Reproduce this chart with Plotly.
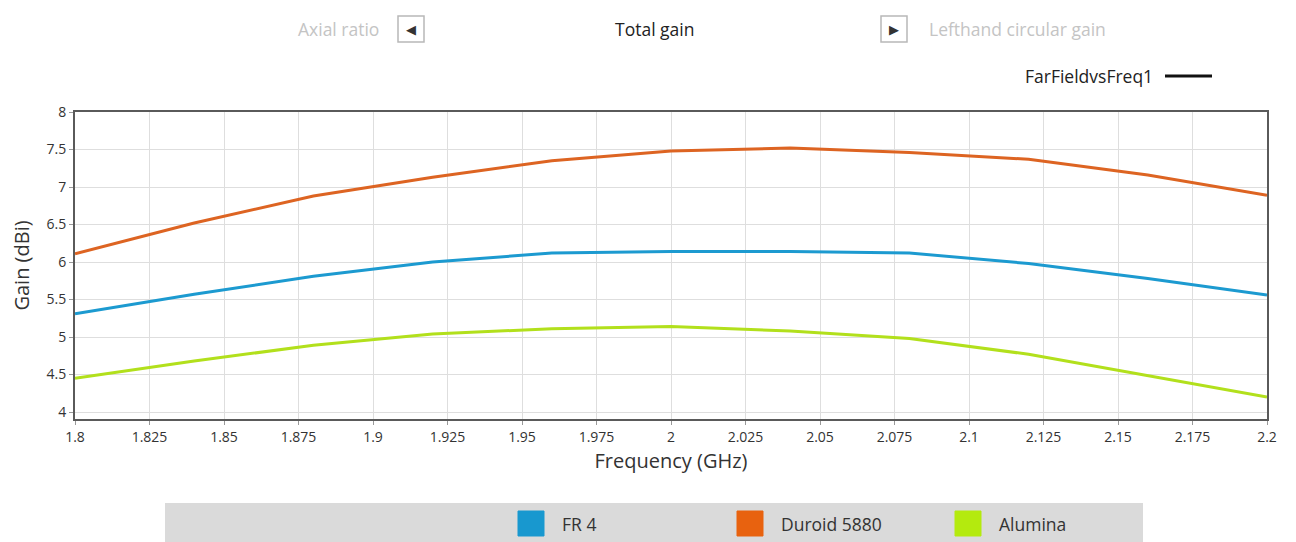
import plotly.graph_objects as go

freq = [1.80, 1.84, 1.88, 1.92, 1.96, 2.00, 2.04, 2.08, 2.12, 2.16, 2.20]
fr4 = [5.31, 5.57, 5.81, 6.00, 6.12, 6.14, 6.14, 6.12, 5.98, 5.78, 5.56]
duroid = [6.11, 6.52, 6.88, 7.13, 7.35, 7.48, 7.52, 7.46, 7.37, 7.16, 6.89]
alumina = [4.45, 4.68, 4.89, 5.04, 5.11, 5.14, 5.08, 4.98, 4.77, 4.49, 4.20]

series_names = ["FR 4", "Duroid 5880", "Alumina"]
series_values = [fr4, duroid, alumina]
series_colors = ["#1c9ad0", "#dd6422", "#b2e01c"]
legend_colors = ["#1898cf", "#e8620f", "#b4ea0e"]

x_ticks = [1.8, 1.825, 1.85, 1.875, 1.9, 1.925, 1.95, 1.975, 2.0, 2.025,
           2.05, 2.075, 2.1, 2.125, 2.15, 2.175, 2.2]
x_tick_labels = ["1.8", "1.825", "1.85", "1.875", "1.9", "1.925", "1.95", "1.975", "2",
                 "2.025", "2.05", "2.075", "2.1", "2.125", "2.15", "2.175", "2.2"]
y_ticks = [4, 4.5, 5, 5.5, 6, 6.5, 7, 7.5, 8]
y_tick_labels = ["4", "4.5", "5", "5.5", "6", "6.5", "7", "7.5", "8"]

W, H = 1296, 542
L, R, T, B = 75, 1267, 112, 419
FONT = "Open Sans, Noto Sans, sans-serif"


def px(x):
    return (x - L) / (R - L)


def py(y):
    return (B - y) / (B - T)


fig = go.Figure()
for name, vals, col in zip(series_names, series_values, series_colors):
    fig.add_trace(go.Scatter(x=freq, y=vals, mode="lines", name=name,
                             line=dict(color=col, width=3), showlegend=False))

shapes = []
annotations = []


def note(x, y, text, anchor, size, color, family=FONT):
    annotations.append(dict(xref="paper", yref="paper", x=px(x), y=py(y), text=text,
                            showarrow=False, xanchor=anchor, yanchor="middle",
                            font=dict(family=family, size=size, color=color)))


# header
note(381, 29, "Axial ratio", "right", 17.5, "#c4c4c4")
note(654, 29, "Total gain", "center", 17.5, "#222222")
note(927, 29, "Lefthand circular gain", "left", 17.5, "#c4c4c4")
for cx, sym in [(411, "◀"), (894, "▶")]:
    shapes.append(dict(type="rect", xref="paper", yref="paper",
                       x0=px(cx - 13), x1=px(cx + 13), y0=py(42), y1=py(16),
                       line=dict(color="#b8b8b8", width=1.5), fillcolor="#ffffff"))
    note(cx, 29, sym, "center", 13, "#333333", "DejaVu Sans")

note(1155, 76, "FarFieldvsFreq1", "right", 17.5, "#222222")
shapes.append(dict(type="line", xref="paper", yref="paper",
                   x0=px(1165), x1=px(1212), y0=py(76), y1=py(76),
                   line=dict(color="#111111", width=3)))

# legend bar
shapes.append(dict(type="rect", xref="paper", yref="paper",
                   x0=px(165), x1=px(1143), y0=py(545), y1=py(503),
                   line=dict(width=0), fillcolor="#dadada", layer="below"))
leg_x = [518, 737, 955]
for lx, name, col in zip(leg_x, series_names, legend_colors):
    shapes.append(dict(type="rect", xref="paper", yref="paper",
                       x0=px(lx), x1=px(lx + 26), y0=py(536), y1=py(511),
                       line=dict(color=col, width=1), fillcolor=col))
    note(lx + 42, 524, name, "left", 17.5, "#333333")

fig.update_layout(
    width=W, height=H,
    margin=dict(l=L, r=W - R, t=T, b=H - B, pad=0),
    paper_bgcolor="#ffffff", plot_bgcolor="#ffffff",
    showlegend=False,
    shapes=shapes, annotations=annotations,
    font=dict(family=FONT, size=14, color="#333333"),
)
fig.update_xaxes(range=[1.8, 2.2], tickvals=x_ticks, ticktext=x_tick_labels,
                 showgrid=True, gridcolor="#dedede", gridwidth=1,
                 showline=True, linecolor="#5a5a5a", linewidth=2, mirror=True,
                 ticks="outside", ticklen=4, tickcolor="#999999",
                 tickfont=dict(family=FONT, size=14, color="#333333"),
                 zeroline=False,
                 title=dict(text="Frequency (GHz)", standoff=9,
                            font=dict(family=FONT, size=20, color="#333333")))
fig.update_yaxes(range=[3.907, 8], tickvals=y_ticks, ticktext=y_tick_labels,
                 showgrid=True, gridcolor="#dedede", gridwidth=1,
                 showline=True, linecolor="#5a5a5a", linewidth=2, mirror=True,
                 ticks="outside", ticklen=4, tickcolor="#999999",
                 tickfont=dict(family=FONT, size=14, color="#333333"),
                 zeroline=False,
                 title=dict(text="Gain (dBi)", standoff=12,
                            font=dict(family=FONT, size=20, color="#333333")))

fig.write_html("out.html", config={"displayModeBar": False},
               post_script="document.body.style.margin='0px';document.body.style.overflow='hidden';")
